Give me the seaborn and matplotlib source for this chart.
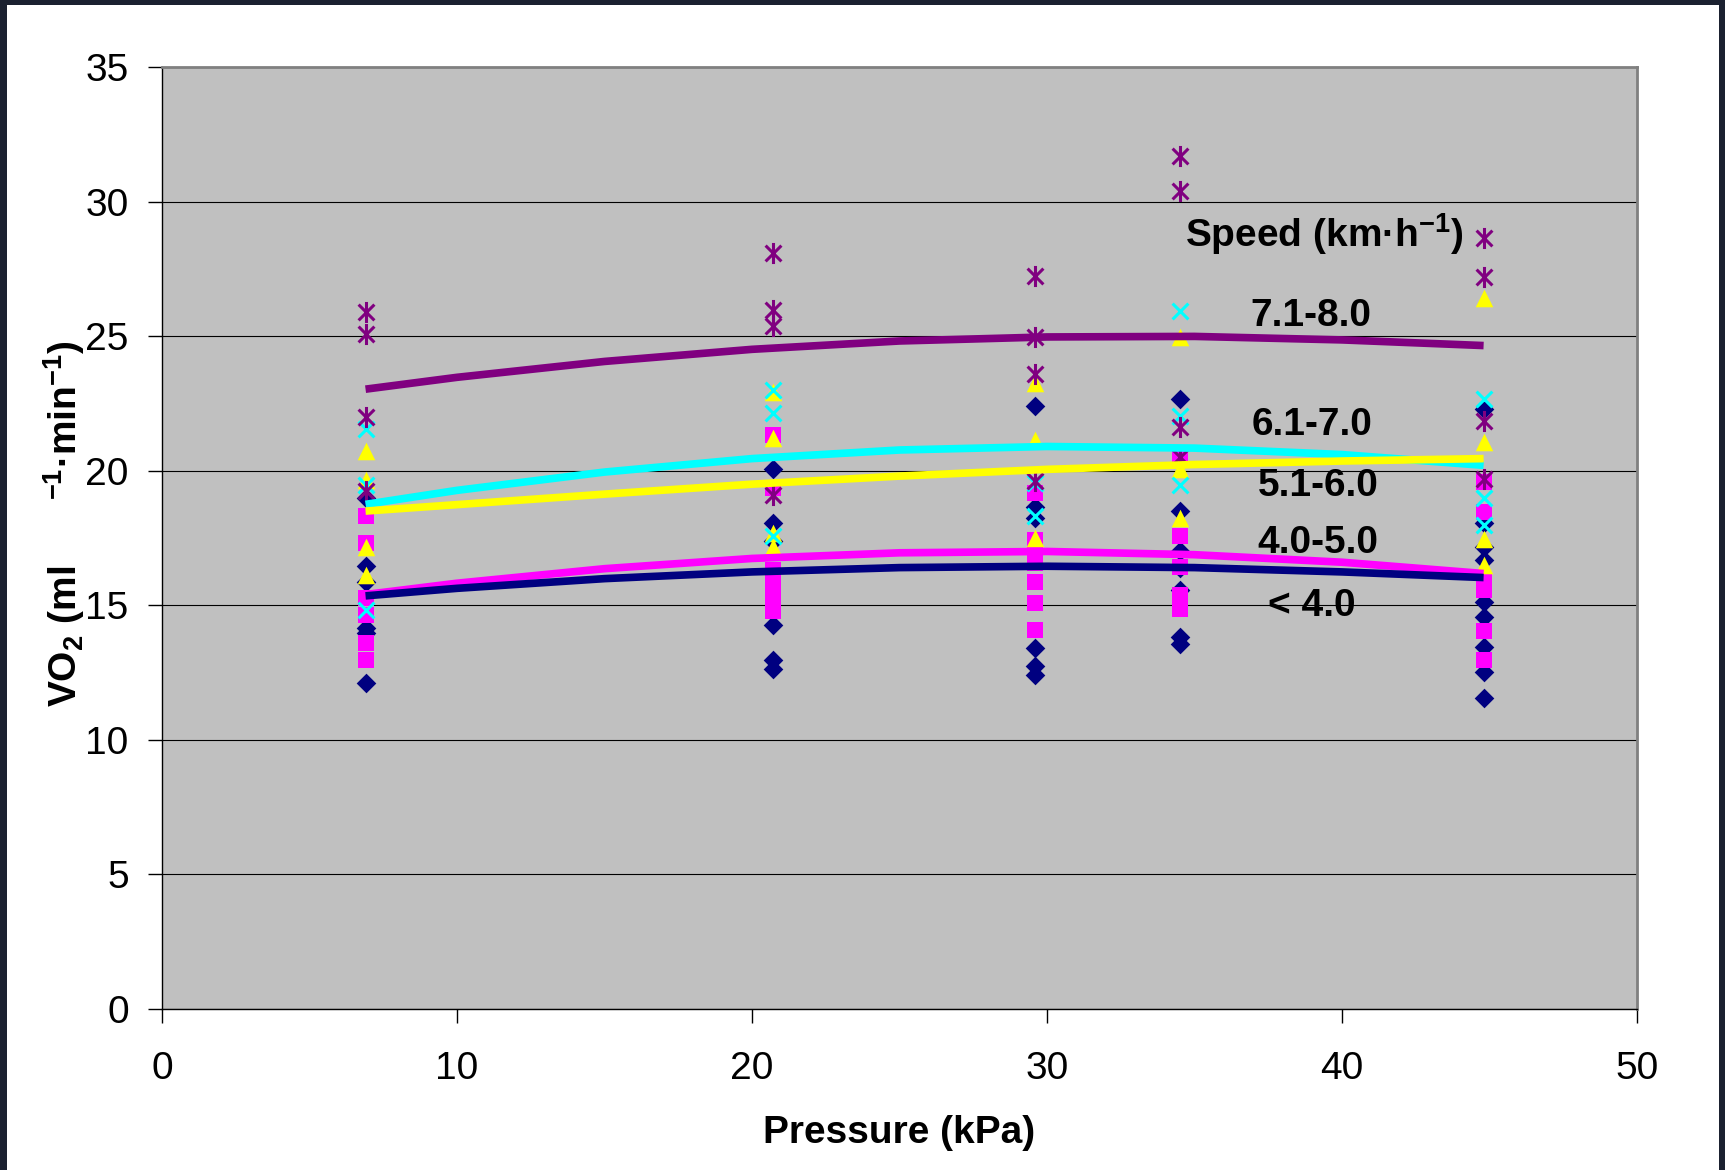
import numpy as np
import pandas as pd
import matplotlib
matplotlib.use("Agg")
import matplotlib.pyplot as plt
from matplotlib.path import Path
from matplotlib.patches import Rectangle
import seaborn as sns

# pressure levels (kPa) where the measurements were taken
PRESSURE = [6.9, 20.7, 29.6, 34.5, 44.8]

# VO2 readings, one list per pressure level, for each speed group
VO2_UNDER_4 = [
    [18.99, 16.46, 15.88, 14.16, 13.98, 12.11],
    [20.05, 18.05, 17.37, 14.27, 12.97, 12.62],
    [22.41, 18.67, 18.25, 13.40, 12.75, 12.41],
    [22.66, 18.52, 17.00, 16.38, 15.57, 13.81, 13.55],
    [22.29, 18.06, 17.17, 16.68, 15.13, 14.55, 13.46, 12.53, 11.54],
]
VO2_4_5 = [
    [18.30, 17.30, 15.27, 14.64, 13.60, 12.97],
    [21.33, 19.36, 16.31, 15.94, 15.57, 15.32, 14.77],
    [19.16, 17.43, 16.57, 15.88, 15.08, 14.08],
    [20.52, 17.57, 16.44, 15.38, 14.87],
    [19.59, 18.47, 15.93, 15.56, 14.05, 12.96],
]
VO2_5_6 = [
    [20.75, 19.66, 17.18, 16.13],
    [22.94, 21.20, 17.69, 17.18],
    [23.25, 21.14, 17.49],
    [24.95, 20.08, 18.26],
    [26.40, 21.07, 17.48, 16.49],
]
VO2_6_7 = [
    [21.55, 19.47, 14.83],
    [23.00, 22.16, 17.58],
    [19.54, 18.30],
    [25.92, 22.03, 19.46],
    [22.65, 19.00, 17.98],
]
VO2_7_8 = [
    [25.90, 25.08, 22.00, 19.26],
    [28.10, 25.97, 25.36, 19.10],
    [27.24, 24.96, 23.60, 19.60],
    [31.69, 30.38, 21.62, 20.52],
    [28.63, 27.20, 21.85, 19.71],
]

# trend lines
TREND_X = [6.9, 10, 15, 20, 25, 30, 35, 40, 44.8]
TREND_UNDER_4 = [15.35, 15.63, 15.99, 16.24, 16.40, 16.45, 16.40, 16.24, 16.03]
TREND_4_5 = [15.40, 15.82, 16.36, 16.74, 16.95, 17.00, 16.88, 16.60, 16.18]
TREND_5_6 = [18.50, 18.74, 19.13, 19.50, 19.80, 20.05, 20.23, 20.36, 20.45]
TREND_6_7 = [18.75, 19.27, 19.95, 20.45, 20.77, 20.90, 20.84, 20.60, 20.20]
TREND_7_8 = [23.03, 23.47, 24.06, 24.51, 24.82, 24.97, 24.99, 24.86, 24.65]

GROUPS = ["< 4.0", "4.0-5.0", "5.1-6.0", "6.1-7.0", "7.1-8.0"]

# excel style asterisk: x plus a vertical bar
ASTERISK = Path([(0, -1), (0, 1), (-0.75, -0.75), (0.75, 0.75), (-0.75, 0.75), (0.75, -0.75)],
                [Path.MOVETO, Path.LINETO] * 3)


def to_long(values, group):
    rows = []
    for p, col in zip(PRESSURE, values):
        for v in col:
            rows.append({"pressure": p, "vo2": v, "speed": group})
    return pd.DataFrame(rows)


sns.set_theme(style="ticks", rc={"text.color": "black", "axes.labelcolor": "black"})
plt.rcParams["font.family"] = ["Liberation Sans", "DejaVu Sans"]
plt.rcParams["mathtext.default"] = "regular"

fig = plt.figure(figsize=(17.25, 11.7), dpi=100)
fig.patch.set_facecolor("#1b2130")
fig.add_artist(Rectangle((7 / 1725, 0), 1712 / 1725, 1165 / 1170, transform=fig.transFigure,
                         facecolor="white", edgecolor="none", zorder=0))
ax = fig.add_axes([162 / 1725, 1 - 1009 / 1170, 1475 / 1725, 942 / 1170])
ax.set_facecolor("#C0C0C0")

scatter_styles = [
    (VO2_UNDER_4, dict(marker="D", s=100, color="#000080", edgecolor="#000080", linewidth=0)),
    (VO2_4_5, dict(marker="s", s=125, color="#FF00FF", edgecolor="#FF00FF", linewidth=0)),
    (VO2_5_6, dict(marker="^", s=160, color="#FFFF00", edgecolor="#FFFF00", linewidth=0)),
    (VO2_6_7, dict(marker="x", s=130, color="#00FFFF", linewidth=2.2)),
    (VO2_7_8, dict(marker=ASTERISK, s=230, color="#800080", edgecolor="#800080", linewidth=2.2)),
]
for i, (vals, kw) in enumerate(scatter_styles):
    df = to_long(vals, GROUPS[i])
    sns.scatterplot(data=df, x="pressure", y="vo2", ax=ax, zorder=2 + i * 0.1, legend=False, **kw)

# trend lines, purple at the back, navy in front
trend_styles = [
    (TREND_7_8, "#800080"),
    (TREND_6_7, "#00FFFF"),
    (TREND_5_6, "#FFFF00"),
    (TREND_4_5, "#FF00FF"),
    (TREND_UNDER_4, "#000080"),
]
for i, (vals, c) in enumerate(trend_styles):
    sns.lineplot(x=TREND_X, y=vals, color=c, linewidth=5.5, ax=ax, zorder=4 + i * 0.1,
                 solid_capstyle="butt", solid_joinstyle="round")

ax.set_xlim(0, 50)
ax.set_ylim(0, 35)
ax.set_xticks(range(0, 51, 10))
ax.set_yticks(range(0, 36, 5))
ax.tick_params(axis="both", direction="out", length=10, width=1, color="black",
               labelsize=28, labelcolor="black")
ax.tick_params(axis="x", pad=20)
ax.tick_params(axis="y", pad=14)
ax.yaxis.grid(True, color="black", linewidth=0.8)
ax.xaxis.grid(False)
ax.set_axisbelow(True)

for side in ["top", "right"]:
    ax.spines[side].set_color("#808080")
    ax.spines[side].set_linewidth(2)
for side in ["left", "bottom"]:
    ax.spines[side].set_color("black")
    ax.spines[side].set_linewidth(1)

ax.set_xlabel("Pressure (kPa)", fontsize=28, fontweight="bold", color="black")
ax.set_ylabel("VO$_2$ (ml      $^{-1}$·min$^{-1}$)", fontsize=28, fontweight="bold", color="black")
ax.xaxis.set_label_coords(0.5, -0.113)
ax.yaxis.set_label_coords(-0.051, 0.515)

# speed labels next to the trend lines
ax.text(34.68, 28.79, "Speed (km·h$^{-1}$)", fontsize=28, fontweight="bold", color="black",
        ha="left", va="center")
label_pos = [(37.5, 14.99), (37.14, 17.32), (37.14, 19.44), (36.95, 21.69), (36.9, 25.73)]
for g, (lx, ly) in zip(GROUPS, label_pos):
    ax.text(lx, ly, g, fontsize=28, fontweight="bold", color="black", ha="left", va="center",
            zorder=6)

fig.savefig("out.png", dpi=100, facecolor=fig.get_facecolor())
